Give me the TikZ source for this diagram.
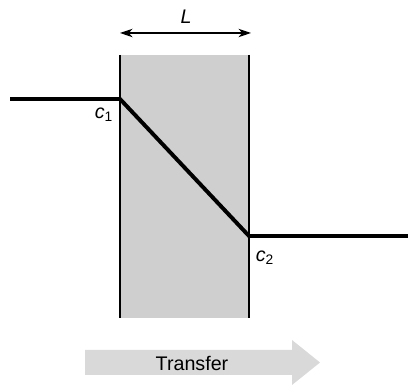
\documentclass[tikz,border=0pt]{standalone}
\usepackage{fontspec}
\setmainfont{Liberation Sans}
\usetikzlibrary{arrows.meta}

\begin{document}
\begin{tikzpicture}[x=0.025cm, y=-0.025cm]
	% Stili
	\tikzset{profilo/.style={line width=2.8pt, line join=round},
		parete/.style={line width=1.3pt},
		etichetta/.style={font=\fontsize{14}{16}\selectfont\itshape, inner sep=0pt}}
	\useasboundingbox (0,0) rectangle (408,385);
	
	% Strato (membrana)
	\fill[gray!38] (120,55) rectangle (249,318);
	\coordinate (alto1) at (120,55);
	\coordinate (basso1) at (120,318);
	\coordinate (alto2) at (249,55);
	\coordinate (basso2) at (249,318);
	\draw[parete] (alto1) -- (basso1);
	\draw[parete] (alto2) -- (basso2);
	
	% Profilo di concentrazione
	\coordinate (inizio) at (10,99);
	\coordinate (p1) at (120,99);
	\coordinate (p2) at (249,236);
	\coordinate (fine) at (408,236);
	\draw[profilo] (inizio) -- (p1) -- (p2) -- (fine);
	\node[etichetta] (c1) at (104,115) {c\textsubscript{\upshape 1}};
	\node[etichetta] (c2) at (265,258) {c\textsubscript{\upshape 2}};
	
	% Spessore
	\coordinate (sx) at (120,33);
	\coordinate (dx) at (251,33);
	\draw[{Stealth[length=9pt,width=6pt]}-{Stealth[length=9pt,width=6pt]}, line width=0.9pt] (sx) -- (dx);
	\node[etichetta] (L) at (186,17) {L};
	
	% Freccia del trasferimento
	\fill[gray!30] (85,350) -- (292,350) -- (292,340) -- (320,362.5) -- (292,385) -- (292,375) -- (85,375) -- cycle;
	\node[font=\fontsize{14}{16}\selectfont, inner sep=0pt] (trasf) at (192,363) {Transfer};
\end{tikzpicture}
\end{document}
